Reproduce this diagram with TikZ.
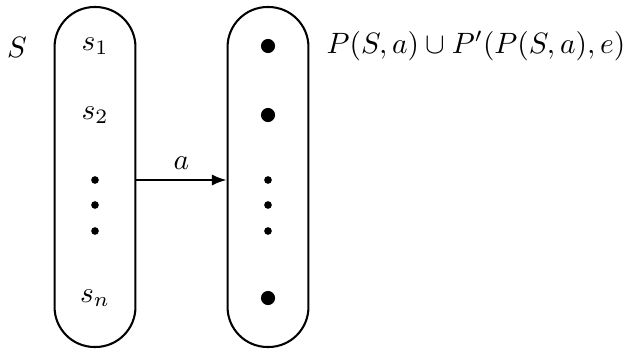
\documentclass[tikz,border=0pt]{standalone}
\usetikzlibrary{arrows.meta}
\begin{document}
\begin{tikzpicture}[x=0.34pt,y=-0.34pt,
			every node/.style={font=\fontsize{10.3}{12.5}\selectfont},
			setbox/.style={draw,line width=0.7pt,rounded corners=13.6pt,minimum width=27.5pt,minimum height=115.6pt,inner sep=0pt},
			bigdot/.style={circle,fill,inner sep=0pt,minimum size=4.8pt},
			smalldot/.style={circle,fill,inner sep=0pt,minimum size=2.6pt},
			declare function={
				colL = 95;
				colR = 268;
				rowA = 46;
				rowB = 115;
				rowN = 298;
			}
			]
			\useasboundingbox (0,0) rectangle (642,353);
			\node[setbox] (lbox) at (95,177) {};
			\node[setbox] (rbox) at (268,177) {};
			\node (S) at (17,47) {$S$};
			\node (s1) at (colL,rowA) {$s_1$};
			\node (s2) at (colL,rowB) {$s_2$};
			\node (sn) at (colL,rowN) {$s_n$};
			\node[bigdot] (p1) at (colR,rowA) {};
			\node[bigdot] (p2) at (colR,rowB) {};
			\node[bigdot] (pn) at (colR,rowN) {};
			\foreach \i/\y in {1/180,2/205,3/231}{
				\node[smalldot] (ld\i) at (colL,\y) {};
				\node[smalldot] (rd\i) at (colR,\y) {};
			}
			\node[anchor=west,inner sep=0pt] (PSa) at (326,46) {$P(S,a)\cup P'(P(S,a),e)$};
			\draw[line width=0.6pt,-{Latex[length=5pt,width=3.8pt]}] (lbox.east |- ld1) -- node[above] {$a$} (rbox.west |- rd1);
		\end{tikzpicture}
\end{document}
